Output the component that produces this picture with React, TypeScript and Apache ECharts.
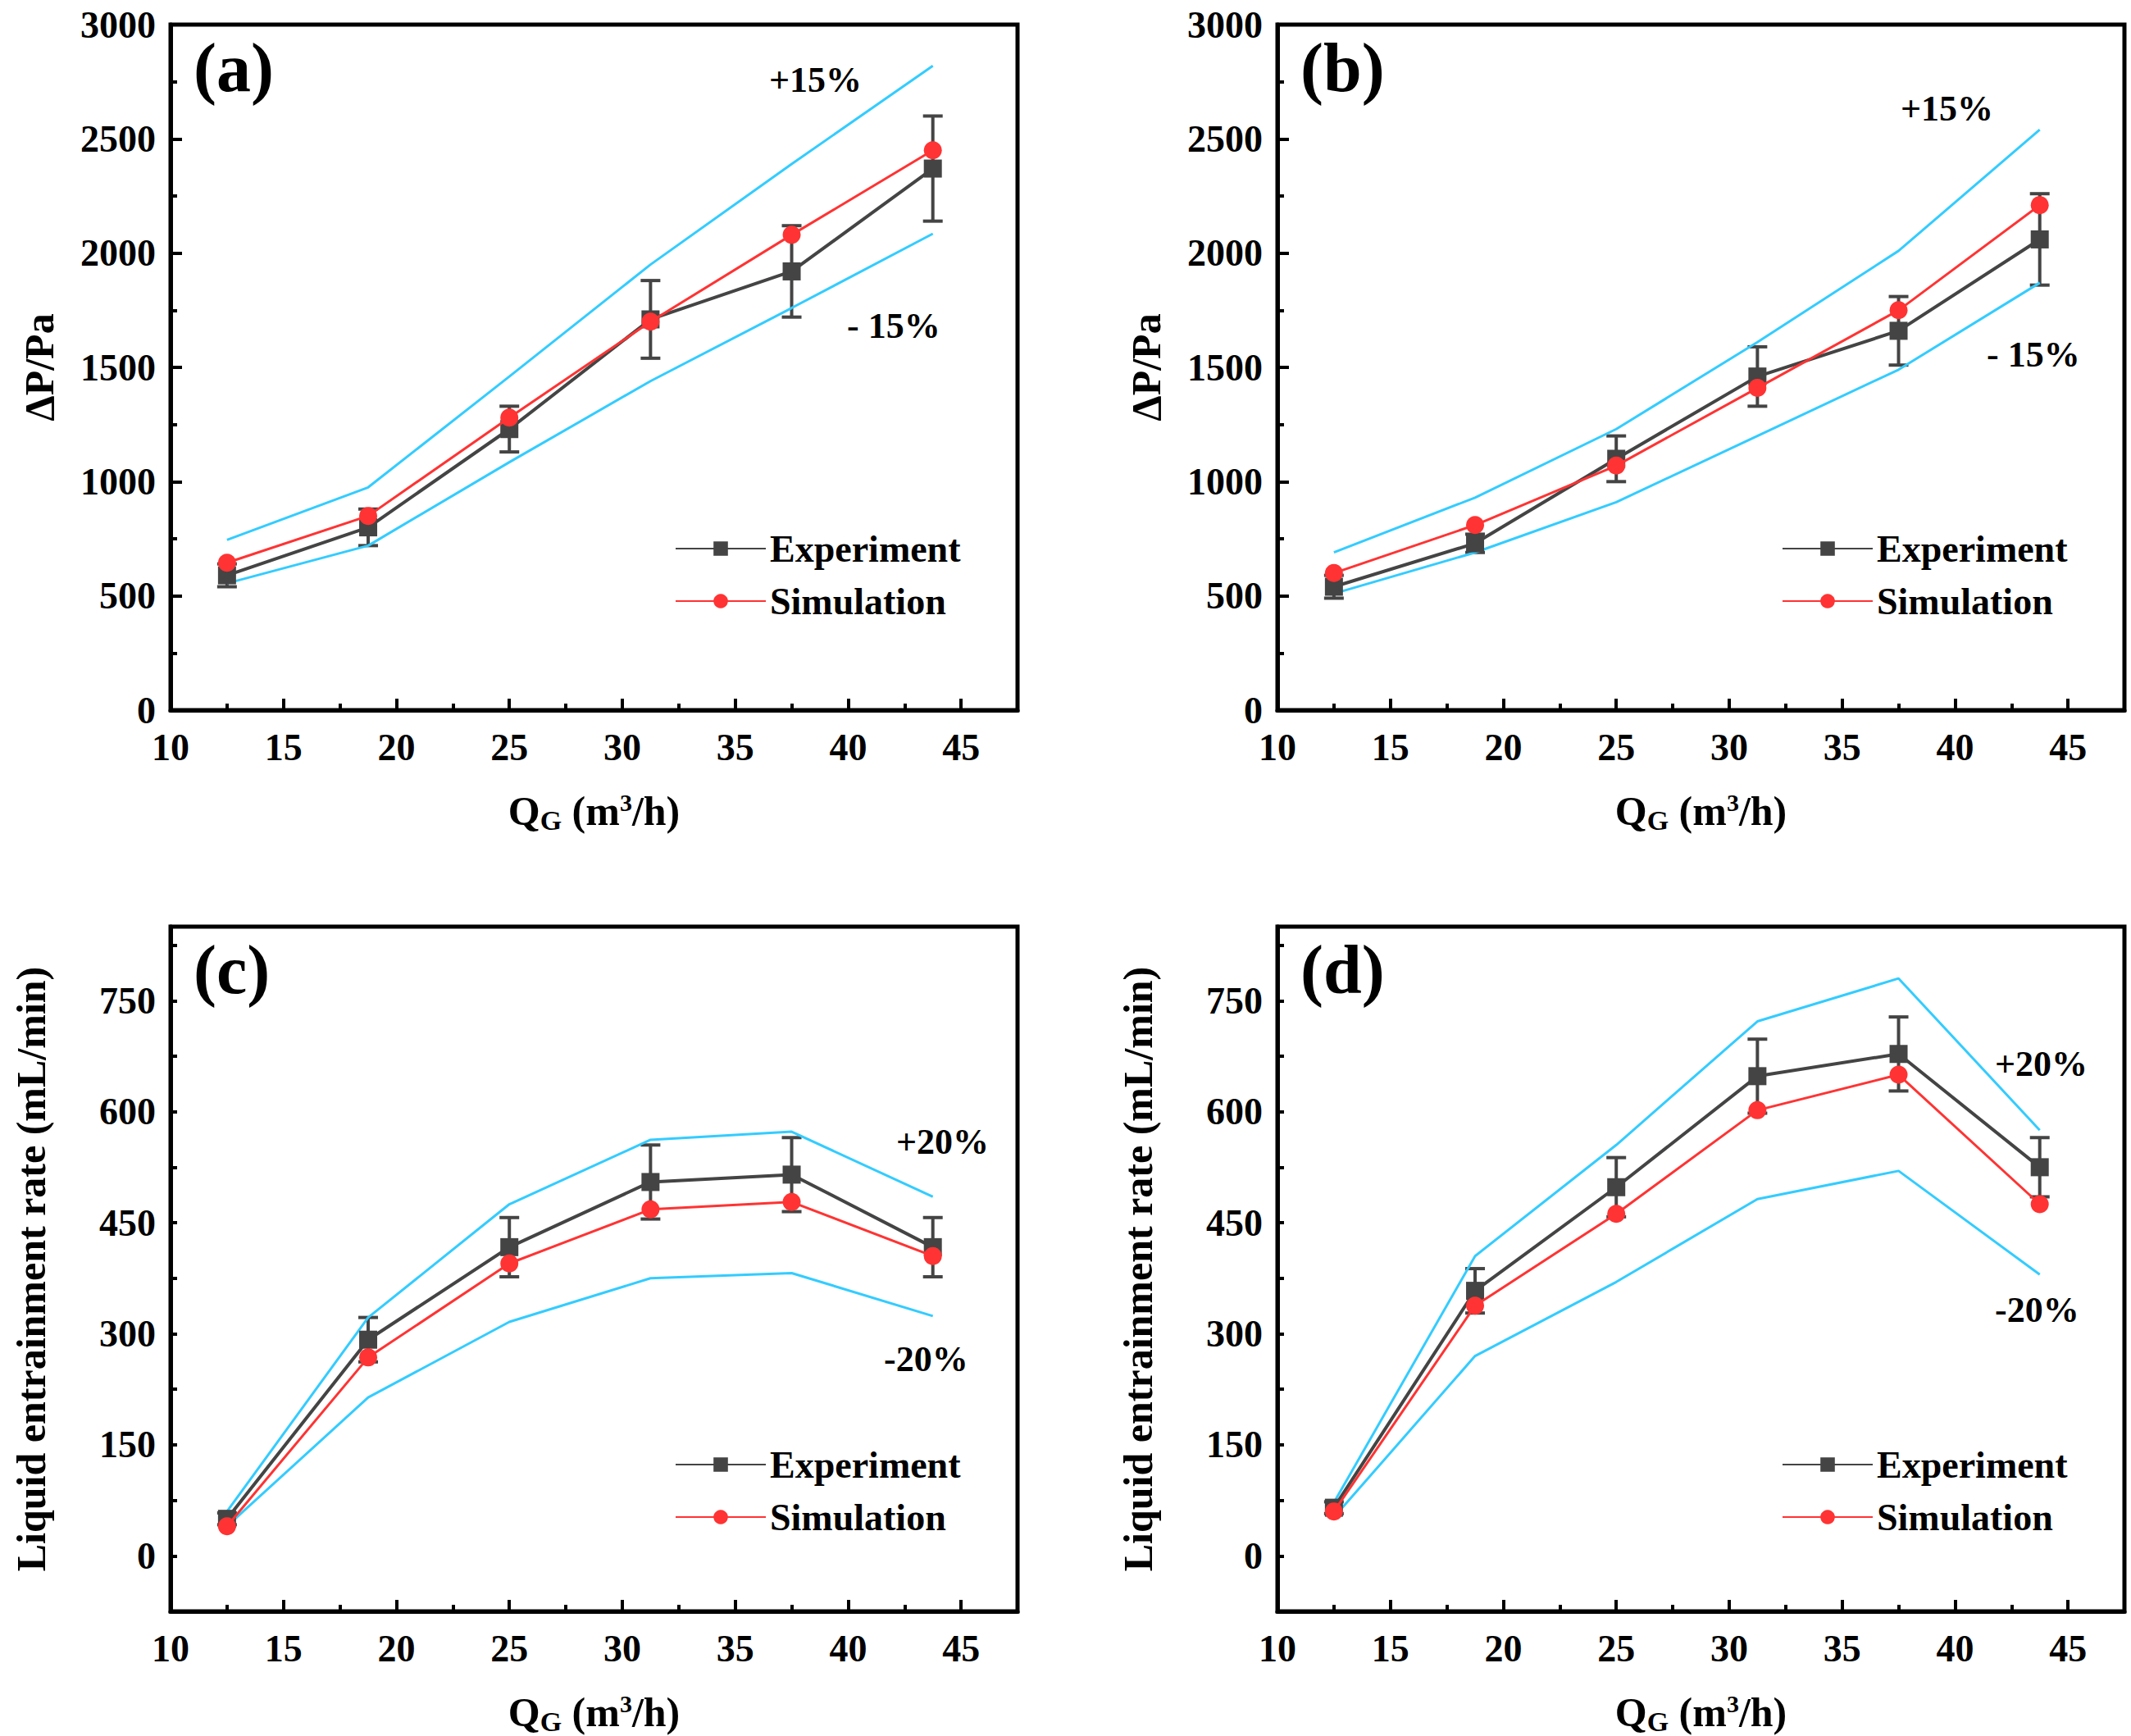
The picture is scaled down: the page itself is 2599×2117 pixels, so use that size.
import { useEffect, useRef } from "react";
import * as echarts from "echarts";

const qg = [12.5, 18.75, 25, 31.25, 37.5, 43.75];

// panel (a)
const expA = [590, 800, 1230, 1710, 1920, 2370];
const errA = [50, 80, 100, 170, 200, 230];
const simA = [645, 850, 1280, 1700, 2080, 2450];
const upA = [745, 975, 1460, 1950, 2390, 2820];
const loA = [555, 720, 1085, 1440, 1760, 2085];
// panel (b)
const expB = [540, 730, 1100, 1460, 1660, 2060];
const errB = [50, 40, 100, 130, 150, 200];
const simB = [600, 810, 1070, 1410, 1750, 2210];
const upB = [690, 930, 1230, 1610, 2010, 2540];
const loB = [510, 690, 910, 1200, 1490, 1870];
// panel (c)
const expC = [50, 292, 417, 505, 515, 417];
const errC = [8, 30, 40, 50, 50, 40];
const simC = [40, 268, 395, 468, 478, 405];
const upC = [60, 322, 475, 562, 573, 485];
const loC = [40, 214, 316, 375, 382, 324];
// panel (d)
const expD = [65, 358, 498, 648, 678, 525];
const errD = [8, 30, 40, 50, 50, 40];
const simD = [60, 338, 462, 602, 650, 475];
const upD = [72, 405, 555, 722, 780, 575];
const loD = [52, 270, 370, 482, 520, 380];

const panels = [
  { tag: "(a)", exp: expA, err: errA, sim: simA, up: upA, lo: loA, upTxt: "+15%", loTxt: "- 15%", dp: true },
  { tag: "(b)", exp: expB, err: errB, sim: simB, up: upB, lo: loB, upTxt: "+15%", loTxt: "- 15%", dp: true },
  { tag: "(c)", exp: expC, err: errC, sim: simC, up: upC, lo: loC, upTxt: "+20%", loTxt: "-20%", dp: false },
  { tag: "(d)", exp: expD, err: errD, sim: simD, up: upD, lo: loD, upTxt: "+20%", loTxt: "-20%", dp: false },
];

// grid boxes (pixels)
const boxes = [
  { left: 208, top: 30, width: 1033, height: 836 },
  { left: 1558, top: 30, width: 1033, height: 836 },
  { left: 208, top: 1130, width: 1033, height: 853 },
  { left: 1558, top: 1130, width: 1033, height: 853 },
];
// annotation offsets [upX, upY, loX, loY] in pixels relative to grid
const notes = [
  [730, 45, 825, 345],
  [760, 80, 865, 380],
  [885, 240, 870, 505],
  [875, 145, 875, 445],
];

const FONT = "Liberation Serif";

function App() {
  const ref = useRef<HTMLDivElement>(null);
  useEffect(() => {
    const chart = echarts.init(ref.current!, null, { renderer: "svg" });
    const grid: any[] = [];
    const xAxis: any[] = [];
    const yAxis: any[] = [];
    const series: any[] = [];
    const legend: any[] = [];
    const graphic: any[] = [];
    panels.forEach((p, i) => {
      const b = boxes[i];
      grid.push({ ...b, show: true, borderColor: "#000", borderWidth: 5, backgroundColor: "transparent" });
      xAxis.push({
        gridIndex: i, type: "value", min: 10, max: 47.5, interval: 5,
        name: "{q|Q}{s|G}{q| (m}{sup|3}{q|/h)}", nameLocation: "middle", nameGap: 95,
        nameTextStyle: { rich: {
          q: { fontFamily: FONT, fontWeight: "bold", fontSize: 50 },
          s: { fontFamily: FONT, fontWeight: "bold", fontSize: 34, padding: [22, 0, 0, 0] },
          sup: { fontFamily: FONT, fontWeight: "bold", fontSize: 30, padding: [0, 0, 22, 0] },
        } },
        axisLine: { onZero: false, lineStyle: { color: "#000", width: 5 } },
        axisTick: { inside: true, length: 14, lineStyle: { color: "#000", width: 4 } },
        minorTick: { show: true, splitNumber: 2, length: 8, lineStyle: { color: "#000", width: 4 } },
        axisLabel: { fontFamily: FONT, fontWeight: "bold", fontSize: 46, color: "#000", margin: 22,
          formatter: (v: number) => (v % 5 === 0 ? String(v) : "") },
        splitLine: { show: false },
      });
      yAxis.push(p.dp ? {
        gridIndex: i, type: "value", min: 0, max: 3000, interval: 500,
        name: "ΔP/Pa", nameLocation: "middle", nameGap: 135,
        nameTextStyle: { fontFamily: FONT, fontWeight: "bold", fontSize: 50, color: "#000" },
        axisLine: { onZero: false, lineStyle: { color: "#000", width: 5 } },
        axisTick: { inside: true, length: 14, lineStyle: { color: "#000", width: 4 } },
        minorTick: { show: true, splitNumber: 2, length: 8, lineStyle: { color: "#000", width: 4 } },
        axisLabel: { fontFamily: FONT, fontWeight: "bold", fontSize: 46, color: "#000", margin: 18,
          formatter: (v: number) => String(v) },
        splitLine: { show: false },
      } : {
        gridIndex: i, type: "value", min: -75, max: 850, interval: 75,
        name: "Liquid entrainment rate (mL/min)", nameLocation: "middle", nameGap: 145,
        nameTextStyle: { fontFamily: FONT, fontWeight: "bold", fontSize: 50, color: "#000" },
        axisLine: { onZero: false, lineStyle: { color: "#000", width: 5 } },
        axisTick: { inside: true, length: 8, lineStyle: { color: "#000", width: 4 } },
        axisLabel: { fontFamily: FONT, fontWeight: "bold", fontSize: 46, color: "#000", margin: 18,
          formatter: (v: number) => (v >= 0 && v % 150 === 0 ? String(v) : "") },
        splitLine: { show: false },
      });
      const mk = (a: number[]) => qg.map((x, k) => [x, a[k]]);
      series.push(
        { type: "line", xAxisIndex: i, yAxisIndex: i, data: mk(p.up), symbol: "none", lineStyle: { color: "#33ccff", width: 3 }, silent: true },
        { type: "line", xAxisIndex: i, yAxisIndex: i, data: mk(p.lo), symbol: "none", lineStyle: { color: "#33ccff", width: 3 }, silent: true },
        {
          type: "custom", xAxisIndex: i, yAxisIndex: i,
          data: qg.map((x, k) => [x, p.exp[k] - p.err[k], p.exp[k] + p.err[k]]),
          renderItem: (params: any, api: any) => {
            const lo = api.coord([api.value(0), api.value(1)]);
            const hi = api.coord([api.value(0), api.value(2)]);
            const st = { stroke: "#444", lineWidth: 4 };
            return { type: "group", children: [
              { type: "line", shape: { x1: lo[0], y1: lo[1], x2: hi[0], y2: hi[1] }, style: st },
              { type: "line", shape: { x1: lo[0] - 12, y1: lo[1], x2: lo[0] + 12, y2: lo[1] }, style: st },
              { type: "line", shape: { x1: hi[0] - 12, y1: hi[1], x2: hi[0] + 12, y2: hi[1] }, style: st },
            ] };
          },
          z: 3,
        },
        { name: "Experiment", type: "line", xAxisIndex: i, yAxisIndex: i, data: mk(p.exp), symbol: "rect", symbolSize: 22,
          itemStyle: { color: "#444" }, lineStyle: { color: "#444", width: 4 }, z: 4 },
        { name: "Simulation", type: "line", xAxisIndex: i, yAxisIndex: i, data: mk(p.sim), symbol: "circle", symbolSize: 22,
          itemStyle: { color: "#ff3333" }, lineStyle: { color: "#ff3333", width: 3 }, z: 5 },
      );
      legend.push({
        orient: "vertical", left: b.left + 610, top: b.top + b.height - 225,
        itemWidth: 110, itemHeight: 22, itemGap: 18,
        textStyle: { fontFamily: FONT, fontWeight: "bold", fontSize: 46, color: "#000" },
        data: ["Experiment", "Simulation"],
      });
      const n = notes[i];
      const ts = { fontFamily: FONT, fontWeight: "bold", fontSize: 44, fill: "#000" };
      graphic.push(
        { type: "text", left: b.left + 28, top: b.top + 10, style: { text: p.tag, fontFamily: FONT, fontWeight: "bold", fontSize: 84, fill: "#000" } },
        { type: "text", left: b.left + n[0], top: b.top + n[1], style: { text: p.upTxt, ...ts } },
        { type: "text", left: b.left + n[2], top: b.top + n[3], style: { text: p.loTxt, ...ts } },
      );
    });
    chart.setOption({ animation: false, backgroundColor: "#fff", grid, xAxis, yAxis, series, legend, graphic });
    return () => chart.dispose();
  }, []);
  return <div ref={ref} style={{ position: "fixed", left: 0, top: 0, width: 2599, height: 2117 }} />;
}

export default App;
